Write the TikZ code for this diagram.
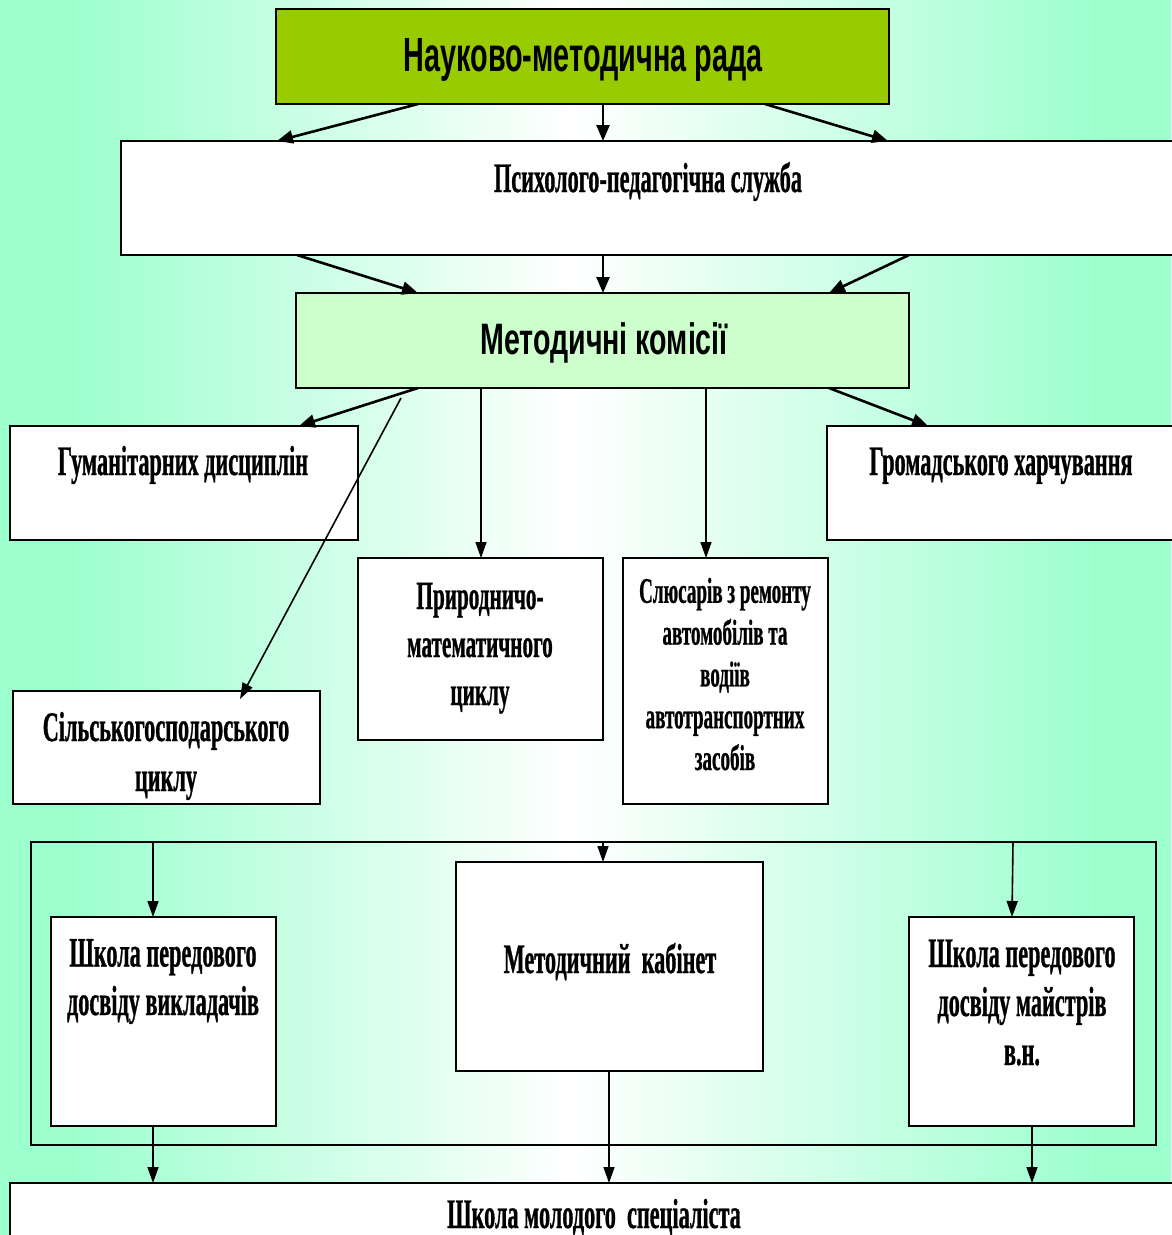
\documentclass[tikz,border=0pt]{standalone}
\usepackage{fontspec}
\setmainfont{Liberation Serif}[FakeStretch=0.53,BoldFeatures={FakeBold=0.7}]
\newfontfamily\titlefont{Liberation Sans}[FakeStretch=0.6]
\newfontfamily\mkfont{Liberation Sans}[FakeStretch=0.65]
\usetikzlibrary{arrows.meta}
\definecolor{mint}{RGB}{156,255,206}
\definecolor{mintc}{RGB}{255,255,255}
\definecolor{titlegreen}{HTML}{99CC00}
\definecolor{paleg}{HTML}{CCFFCC}
\pgfdeclarehorizontalshading{bgshade}{100bp}{color(0bp)=(mint); color(28bp)=(mint); color(49.5bp)=(mintc); color(72bp)=(mint); color(100bp)=(mint)}
\begin{document}
\begin{tikzpicture}[x=1pt,y=-1pt,
  box/.style={draw=black,line width=2pt,fill=white},
  txt/.style={font=\bfseries\fontsize{42}{50}\selectfont,align=center,anchor=base,inner sep=0pt},
  arr/.style={line width=2.6pt,-{Triangle[length=16pt,width=13pt]}},
  thin/.style={line width=1.6pt,-{Triangle[length=16pt,width=11pt]}}]
\useasboundingbox (0,0) rectangle (1171,1235);
\shade[shading=bgshade] (0,0) rectangle (1171,1235);
% boxes
\path[box,fill=titlegreen] (276,9) rectangle (889,104);
\path[box] (121,141) rectangle (1190,255);
\path[box,fill=paleg] (296,293) rectangle (909,388);
\path[box] (10,426) rectangle (358,540);
\path[box] (827,426) rectangle (1190,540);
\path[box] (13,691) rectangle (320,804);
\path[box] (358,558) rectangle (603,740);
\path[box] (623,558) rectangle (828,804);
\draw[line width=2pt] (31,842) rectangle (1156,1145);
\path[box] (51,917) rectangle (276,1126);
\path[box] (456,862) rectangle (763,1071);
\path[box] (909,917) rectangle (1134,1126);
\path[box] (10,1183) rectangle (1190,1260);
% named anchor points
\coordinate (t1) at (418,104); \coordinate (t2) at (603,104); \coordinate (t3) at (765,104);
\coordinate (p1) at (277,141); \coordinate (p2) at (603,141); \coordinate (p3) at (888,141);
\coordinate (q1) at (297,255); \coordinate (q2) at (603,255); \coordinate (q3) at (909,255);
\coordinate (m1) at (418,293); \coordinate (m2) at (603,293); \coordinate (m3) at (829,293);
\coordinate (b1) at (418,388); \coordinate (b2) at (401,398); \coordinate (b3) at (481,388); \coordinate (b4) at (706,388); \coordinate (b5) at (829,388);
\coordinate (h1) at (299,426); \coordinate (s1) at (240,699); \coordinate (n1) at (481,558); \coordinate (sl1) at (706,558); \coordinate (g1) at (928,426);
\coordinate (f1) at (153,842); \coordinate (f2) at (603,842); \coordinate (f3) at (1013,842);
\coordinate (w1) at (153,917); \coordinate (k1) at (603,862); \coordinate (ma1) at (1012,917);
\coordinate (w2) at (153,1126); \coordinate (k2) at (609,1071); \coordinate (ma2) at (1032,1126);
\coordinate (y1) at (153,1183); \coordinate (y2) at (609,1183); \coordinate (y3) at (1032,1183);
% connectors
\draw[arr] (t1) -- (p1); \draw[arr] (t2) -- (p2); \draw[arr] (t3) -- (p3);
\draw[arr] (q1) -- (m1); \draw[arr] (q2) -- (m2); \draw[arr] (q3) -- (m3);
\draw[arr] (b1) -- (h1); \draw[thin] (b2) -- (s1); \draw[thin] (b3) -- (n1);
\draw[thin] (b4) -- (sl1); \draw[arr] (b5) -- (g1);
\draw[thin] (f1) -- (w1); \draw[thin] (f2) -- (k1); \draw[thin] (f3) -- (ma1);
\draw[thin] (w2) -- (y1); \draw[thin] (k2) -- (y2); \draw[thin] (ma2) -- (y3);
% texts
\node[txt,font=\titlefont\bfseries\fontsize{48}{56}\selectfont] (title) at (583,71) {Науково-методична рада};
\node[txt] (psy) at (648,192) {Психолого-педагогічна служба};
\node[txt,font=\mkfont\bfseries\fontsize{44}{50}\selectfont] (mk) at (604,354) {Методичні комісії};
\node[txt] (hum) at (183,475) {Гуманітарних дисциплін};
\node[txt] (hro) at (1001,475) {Громадського харчування};
\node[txt,font=\bfseries\fontsize{42}{50}\selectfont] (sil) at (166,791) {Сільськогосподарського\\циклу};
\node[txt,font=\bfseries\fontsize{40}{48}\selectfont] (pry) at (480,705) {Природничо-\\математичного\\циклу};
\node[txt,font=\bfseries\fontsize{36}{41.8}\selectfont] (slu) at (725,770) {Слюсарів з ремонту\\автомобілів та\\водіїв\\автотранспортних\\засобів};
\node[txt,font=\bfseries\fontsize{42}{48.5}\selectfont] (shv) at (163,1015) {Школа передового\\досвіду викладачів};
\node[txt] (kab) at (610,973) {Методичний\ \ кабінет};
\node[txt,font=\bfseries\fontsize{42}{49}\selectfont] (shm) at (1022,1065) {Школа передового\\досвіду майстрів\\в.н.};
\node[txt] (mol) at (594,1228) {Школа молодого\ \ спеціаліста};
\end{tikzpicture}
\end{document}
